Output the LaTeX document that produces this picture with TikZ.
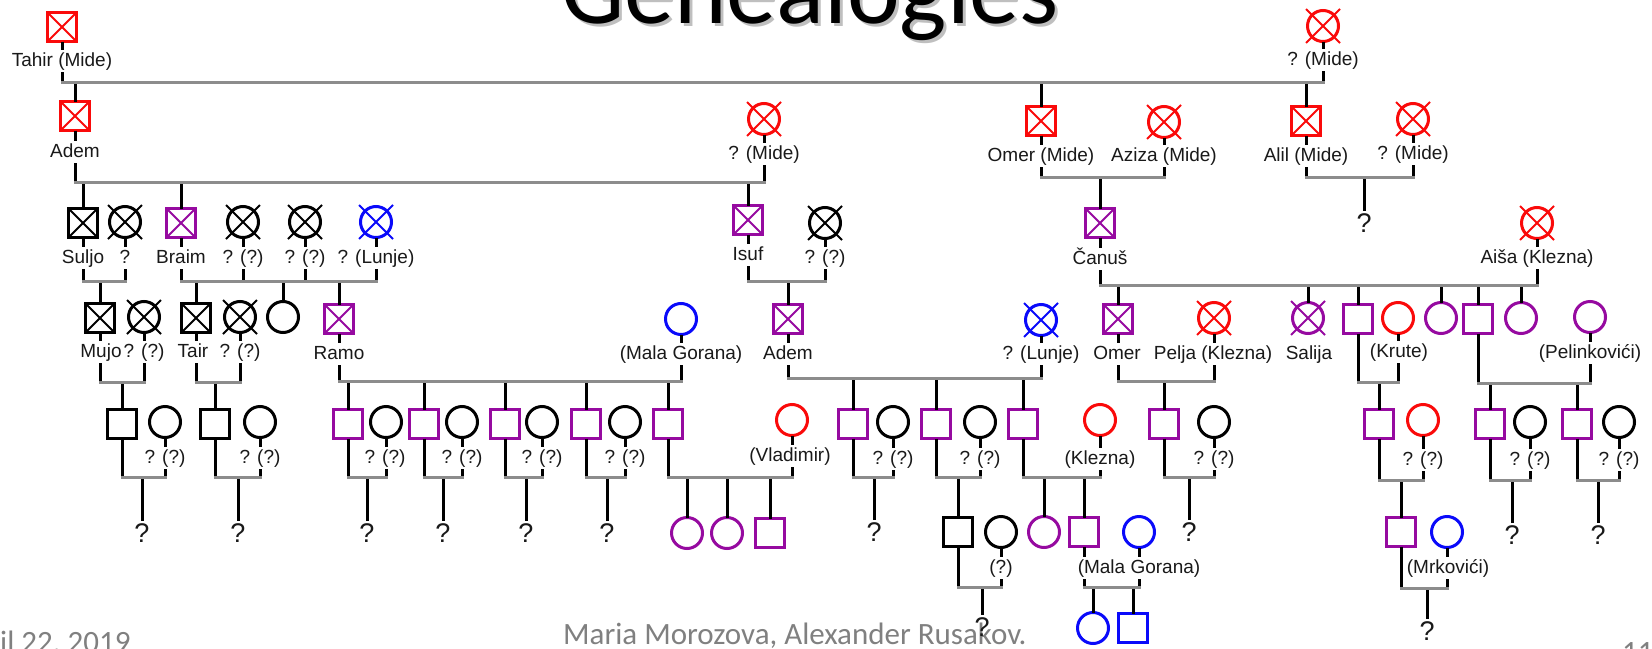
\documentclass[tikz,border=0pt]{standalone}
\usepackage{fontspec}
\setmainfont{Liberation Sans}
\newfontfamily\calib{Carlito}
\definecolor{cred}{RGB}{250,10,10}
\definecolor{cpur}{RGB}{150,10,160}
\definecolor{cblu}{RGB}{10,10,250}
\definecolor{cgry}{RGB}{140,140,140}
\definecolor{ctxt}{RGB}{25,25,25}
\definecolor{cfoot}{RGB}{128,128,128}
\newcommand\labfont{\fontsize{19}{22}\selectfont}
\newcommand\qfont{\fontsize{27}{30}\selectfont}
\newcommand\ttlfont{\calib\fontsize{100}{110}\selectfont}
\newcommand\ftrfont{\calib\fontsize{31}{36}\selectfont}
\newcommand\xsq[2]{\draw[xl,#2] (#1.north west) -- (#1.south east) (#1.north east) -- (#1.south west);}
\newcommand\xci[2]{\draw[xl,#2] ([shift={(-17pt,17pt)}]#1.center) -- ([shift={(17pt,-17pt)}]#1.center) ([shift={(-17pt,-17pt)}]#1.center) -- ([shift={(17pt,17pt)}]#1.center);}
\newcommand\parln[2]{\draw[vl] (#1.south) -- (#1.south |- #2);}
\newcommand\chln[2]{\draw[vl] (#1.north) -- (#1.north |- #2);}
\newcommand\unln[3]{\draw[gl] (#1.south |- #3) -- (#2.south |- #3);}
\tikzset{
  sym/.style={line width=3pt, outer sep=0pt, inner sep=0pt, fill=white},
  male/.style={sym, rectangle, minimum size=29pt, draw=#1},
  male/.default=black,
  fem/.style={sym, circle, minimum size=31pt, draw=#1},
  fem/.default=black,
  xl/.style={line width=1.8pt},
  vl/.style={line width=3pt, black},
  gl/.style={line width=3pt, cgry, line cap=rect},
  lab/.style={font=\labfont, fill=white, inner xsep=1pt, inner ysep=2pt, text height=14pt, text depth=4pt, text=ctxt},
  qmark/.style={font=\qfont, inner sep=2.5pt, text=ctxt},
}
\begin{document}
\begin{tikzpicture}[x=1pt,y=-1pt]
\useasboundingbox (0,0) rectangle (1652,648);
% title and footer
\node[font=\ttlfont, anchor=base, text=black!25] (titleshadow) at (813,26) {Genealogies};
\node[font=\ttlfont, anchor=base, text=black] (title) at (810,23) {Genealogies};
\node[font=\ftrfont, anchor=base west, text=cfoot, inner sep=0pt] (author) at (563,644) {Maria Morozova, Alexander Rusakov.};
\node[font=\ftrfont, anchor=base west, text=cfoot, inner sep=0pt] (date) at (-45,652) {April 22, 2019};
\node[font=\ftrfont, anchor=base west, text=cfoot, inner sep=0pt] (page) at (1622,662) {11};
% union coordinates
\coordinate (u0) at (0,82);
\coordinate (u1) at (0,182);
\coordinate (u1b) at (0,177);
\coordinate (u1c) at (0,177);
\coordinate (u2a) at (0,281);
\coordinate (u2b) at (0,281);
\coordinate (u2c) at (0,281);
\coordinate (u2d) at (0,285);
\coordinate (u3a) at (0,382);
\coordinate (u3b) at (0,382);
\coordinate (u3c) at (0,381);
\coordinate (u3d) at (0,378);
\coordinate (u3e) at (0,381);
\coordinate (u3f) at (0,382);
\coordinate (u3g) at (0,383);
\coordinate (u4) at (0,477);
\coordinate (u4r) at (0,480);
\coordinate (u5) at (0,587);
\coordinate (u5r) at (0,588);
% generation 0
\node[male=cred] (tahir) at (62,27) {};
\node[fem=cred] (tahirW) at (1323,26) {};
% generation 1
\node[male=cred] (adem1) at (75,116) {};
\node[fem=cred] (adem1W) at (764,119) {};
\node[male=cred] (omer1) at (1041,121) {};
\node[fem=cred] (aziza) at (1164,122) {};
\node[male=cred] (alil) at (1306,121) {};
\node[fem=cred] (alilW) at (1413,119) {};
% generation 2
\node[male] (suljo) at (83,223) {};
\node[fem] (suljoW) at (125,222) {};
\node[male=cpur] (braim) at (181,223) {};
\node[fem] (braimW1) at (243,222) {};
\node[fem] (braimW2) at (305,222) {};
\node[fem=cblu] (braimW3) at (376,222) {};
\node[male=cpur] (isuf) at (748,220) {};
\node[fem] (isufW) at (825,223) {};
\node[male=cpur] (canus) at (1100,223) {};
\node[fem=cred] (aisa) at (1537,223) {};
% generation 3
\node[male] (mujo) at (100,318) {};
\node[fem] (mujoW) at (144,317) {};
\node[male] (tair) at (196,318) {};
\node[fem] (tairW) at (240,317) {};
\node[fem] (braimD) at (283,317) {};
\node[male=cpur] (ramo) at (339,319) {};
\node[fem=cblu] (ramoW) at (681,319) {};
\node[male=cpur] (adem3) at (788,319) {};
\node[fem=cblu] (adem3W) at (1041,320) {};
\node[male=cpur] (omer3) at (1118,319) {};
\node[fem=cred] (pelja) at (1214,318) {};
\node[fem=cpur] (salija) at (1308,318) {};
\node[male=cpur] (cs1) at (1358,319) {};
\node[fem=cred] (krute) at (1398,318) {};
\node[fem=cpur] (cd1) at (1441,318) {};
\node[male=cpur] (cs2) at (1478,319) {};
\node[fem=cpur] (cd2) at (1521,318) {};
\node[fem=cpur] (pelin) at (1590,317) {};
% generation 4
\node[male] (mujoS) at (122,424) {};
\node[fem] (mujoSW) at (165,422) {};
\node[male] (tairS) at (215,424) {};
\node[fem] (tairSW) at (260,422) {};
\node[male=cpur] (rs1) at (348,424) {};
\node[fem] (rs1W) at (386,422) {};
\node[male=cpur] (rs2) at (424,424) {};
\node[fem] (rs2W) at (462,422) {};
\node[male=cpur] (rs3) at (505,424) {};
\node[fem] (rs3W) at (542,422) {};
\node[male=cpur] (rs4) at (586,424) {};
\node[fem] (rs4W) at (625,422) {};
\node[male=cpur] (rs5) at (668,424) {};
\node[fem=cred] (rs5W) at (792,420) {};
\node[male=cpur] (as1) at (853,424) {};
\node[fem] (as1W) at (893,422) {};
\node[male=cpur] (as2) at (936,424) {};
\node[fem] (as2W) at (980,422) {};
\node[male=cpur] (as3) at (1023,424) {};
\node[fem=cred] (as3W) at (1100,420) {};
\node[male=cpur] (os) at (1164,424) {};
\node[fem] (osW) at (1214,422) {};
\node[male=cpur] (ks) at (1379,424) {};
\node[fem=cred] (ksW) at (1423,420) {};
\node[male=cpur] (ps1) at (1490,424) {};
\node[fem] (ps1W) at (1530,422) {};
\node[male=cpur] (ps2) at (1577,424) {};
\node[fem] (ps2W) at (1619,422) {};
% generation 5
\node[fem=cpur] (v1) at (687,533) {};
\node[fem=cpur] (v2) at (727,533) {};
\node[male=cpur] (v3) at (770,533) {};
\node[male] (b5) at (958,532) {};
\node[fem] (b5W) at (1001,532) {};
\node[fem=cpur] (k5a) at (1044,532) {};
\node[male=cpur] (k5) at (1084,532) {};
\node[fem=cblu] (k5W) at (1139,532) {};
\node[male=cpur] (r5) at (1401,532) {};
\node[fem=cblu] (r5W) at (1447,532) {};
% generation 6
\node[fem=cblu] (g1) at (1093,628) {};
\node[male=cblu] (g2) at (1133,628) {};
% crosses (deceased)
\xsq{tahir}{cred} \xci{tahirW}{cred}
\xsq{adem1}{cred} \xci{adem1W}{cred} \xsq{omer1}{cred} \xci{aziza}{cred} \xsq{alil}{cred} \xci{alilW}{cred}
\xsq{suljo}{black} \xci{suljoW}{black} \xsq{braim}{cpur} \xci{braimW1}{black} \xci{braimW2}{black} \xci{braimW3}{cblu}
\xsq{isuf}{cpur} \xci{isufW}{black} \xsq{canus}{cpur} \xci{aisa}{cred}
\xsq{mujo}{black} \xci{mujoW}{black} \xsq{tair}{black} \xci{tairW}{black} \xsq{ramo}{cpur}
\xsq{adem3}{cpur} \xci{adem3W}{cblu} \xsq{omer3}{cpur} \xci{pelja}{cred} \xci{salija}{cpur}
% leaf question marks
\node[qmark] (qAl) at (1364,223) {?};
\node[qmark] (qMu) at (142,533) {?};
\node[qmark] (qTa) at (238,533) {?};
\node[qmark] (qR1) at (367,533) {?};
\node[qmark] (qR2) at (443,533) {?};
\node[qmark] (qR3) at (526,533) {?};
\node[qmark] (qR4) at (607,533) {?};
\node[qmark] (qA1) at (874,532) {?};
\node[qmark] (qOs) at (1189,532) {?};
\node[qmark] (qP1) at (1512,535) {?};
\node[qmark] (qP2) at (1598,535) {?};
\node[qmark] (qB5) at (982,627) {?};
\node[qmark] (qR5) at (1427,631) {?};
% ---- lines: generation 0
\parln{tahir}{u0} \parln{tahirW}{u0}
\chln{adem1}{u0} \chln{omer1}{u0} \chln{alil}{u0}
% generation 1 unions
\parln{adem1}{u1} \parln{adem1W}{u1}
\chln{suljo}{u1} \chln{braim}{u1} \chln{isuf}{u1}
\parln{omer1}{u1b} \parln{aziza}{u1b}
\chln{canus}{u1b}
\parln{alil}{u1c} \parln{alilW}{u1c}
\chln{qAl}{u1c}
% generation 2 unions
\parln{suljo}{u2a} \parln{suljoW}{u2a} \chln{mujo}{u2a}
\parln{braim}{u2b} \parln{braimW1}{u2b} \parln{braimW2}{u2b} \parln{braimW3}{u2b}
\chln{tair}{u2b} \chln{braimD}{u2b} \chln{ramo}{u2b}
\parln{isuf}{u2c} \parln{isufW}{u2c} \chln{adem3}{u2c}
\parln{canus}{u2d} \parln{aisa}{u2d}
\chln{omer3}{u2d} \chln{salija}{u2d} \chln{cs1}{u2d} \chln{cd1}{u2d} \chln{cs2}{u2d} \chln{cd2}{u2d}
% generation 3 unions
\parln{mujo}{u3a} \parln{mujoW}{u3a} \chln{mujoS}{u3a}
\parln{tair}{u3b} \parln{tairW}{u3b} \chln{tairS}{u3b}
\parln{ramo}{u3c} \parln{ramoW}{u3c}
\chln{rs1}{u3c} \chln{rs2}{u3c} \chln{rs3}{u3c} \chln{rs4}{u3c} \chln{rs5}{u3c}
\parln{adem3}{u3d} \parln{adem3W}{u3d}
\chln{as1}{u3d} \chln{as2}{u3d} \chln{as3}{u3d}
\parln{omer3}{u3e} \parln{pelja}{u3e} \chln{os}{u3e}
\parln{cs1}{u3f} \parln{krute}{u3f} \chln{ks}{u3f}
\parln{cs2}{u3g} \parln{pelin}{u3g} \chln{ps1}{u3g} \chln{ps2}{u3g}
% generation 4 unions
\parln{mujoS}{u4} \parln{mujoSW}{u4} \chln{qMu}{u4}
\parln{tairS}{u4} \parln{tairSW}{u4} \chln{qTa}{u4}
\parln{rs1}{u4} \parln{rs1W}{u4} \chln{qR1}{u4}
\parln{rs2}{u4} \parln{rs2W}{u4} \chln{qR2}{u4}
\parln{rs3}{u4} \parln{rs3W}{u4} \chln{qR3}{u4}
\parln{rs4}{u4} \parln{rs4W}{u4} \chln{qR4}{u4}
\parln{rs5}{u4} \parln{rs5W}{u4} \chln{v1}{u4} \chln{v2}{u4} \chln{v3}{u4}
\parln{as1}{u4} \parln{as1W}{u4} \chln{qA1}{u4}
\parln{as2}{u4} \parln{as2W}{u4} \chln{b5}{u4}
\parln{as3}{u4} \parln{as3W}{u4} \chln{k5a}{u4} \chln{k5}{u4}
\parln{os}{u4} \parln{osW}{u4} \chln{qOs}{u4}
\parln{ks}{u4r} \parln{ksW}{u4r} \chln{r5}{u4r}
\parln{ps1}{u4r} \parln{ps1W}{u4r} \chln{qP1}{u4r}
\parln{ps2}{u4r} \parln{ps2W}{u4r} \chln{qP2}{u4r}
% generation 5 unions
\parln{b5}{u5} \parln{b5W}{u5} \chln{qB5}{u5}
\parln{k5}{u5} \parln{k5W}{u5} \chln{g1}{u5} \chln{g2}{u5}
\parln{r5}{u5r} \parln{r5W}{u5r} \chln{qR5}{u5r}
% grey union lines
\unln{tahir}{tahirW}{u0}
\unln{adem1}{adem1W}{u1}
\unln{omer1}{aziza}{u1b}
\unln{alil}{alilW}{u1c}
\unln{suljo}{suljoW}{u2a}
\unln{braim}{braimW3}{u2b}
\unln{isuf}{isufW}{u2c}
\unln{canus}{aisa}{u2d}
\unln{mujo}{mujoW}{u3a}
\unln{tair}{tairW}{u3b}
\unln{ramo}{ramoW}{u3c}
\unln{adem3}{adem3W}{u3d}
\unln{omer3}{pelja}{u3e}
\unln{cs1}{krute}{u3f}
\unln{cs2}{pelin}{u3g}
\unln{mujoS}{mujoSW}{u4}
\unln{tairS}{tairSW}{u4}
\unln{rs1}{rs1W}{u4}
\unln{rs2}{rs2W}{u4}
\unln{rs3}{rs3W}{u4}
\unln{rs4}{rs4W}{u4}
\unln{rs5}{rs5W}{u4}
\unln{as1}{as1W}{u4}
\unln{as2}{as2W}{u4}
\unln{as3}{as3W}{u4}
\unln{os}{osW}{u4}
\unln{ks}{ksW}{u4r}
\unln{ps1}{ps1W}{u4r}
\unln{ps2}{ps2W}{u4r}
\unln{b5}{b5W}{u5}
\unln{k5}{k5W}{u5}
\unln{r5}{r5W}{u5r}
% labels
\node[lab] (lTahir) at (62,61) {Tahir (Mide)};
\node[lab] (lTahirW) at (1323,60) {? (Mide)};
\node[lab] (lAdem1) at (75,152) {Adem};
\node[lab] (lAdem1W) at (764,154) {? (Mide)};
\node[lab] (lOmer1) at (1041,156) {Omer (Mide)};
\node[lab] (lAziza) at (1164,156) {Aziza (Mide)};
\node[lab] (lAlil) at (1306,156) {Alil (Mide)};
\node[lab] (lAlilW) at (1413,154) {? (Mide)};
\node[lab] (lSuljo) at (83,258) {Suljo};
\node[lab] (lSuljoW) at (125,258) {?};
\node[lab] (lBraim) at (181,258) {Braim};
\node[lab] (lBW1) at (243,258) {? (?)};
\node[lab] (lBW2) at (305,258) {? (?)};
\node[lab] (lBW3) at (376,258) {? (Lunje)};
\node[lab] (lIsuf) at (748,255) {Isuf};
\node[lab] (lIsufW) at (825,258) {? (?)};
\node[lab] (lCanus) at (1100,259) {Čanuš};
\node[lab] (lAisa) at (1537,258) {Aiša (Klezna)};
\node[lab] (lMujo) at (101,352) {Mujo};
\node[lab] (lMujoW) at (144,352) {? (?)};
\node[lab] (lTair) at (193,352) {Tair};
\node[lab] (lTairW) at (240,352) {? (?)};
\node[lab] (lRamo) at (339,354) {Ramo};
\node[lab] (lRamoW) at (681,354) {(Mala Gorana)};
\node[lab] (lAdem3) at (788,354) {Adem};
\node[lab] (lAdem3W) at (1041,354) {? (Lunje)};
\node[lab] (lOmer3) at (1117,354) {Omer};
\node[lab] (lPelja) at (1213,354) {Pelja (Klezna)};
\node[lab] (lSalija) at (1309,354) {Salija};
\node[lab] (lKrute) at (1399,352) {(Krute)};
\node[lab] (lPelin) at (1590,353) {(Pelinkovići)};
\node[lab] (lMujoSW) at (165,458) {? (?)};
\node[lab] (lTairSW) at (260,458) {? (?)};
\node[lab] (lRs1W) at (385,458) {? (?)};
\node[lab] (lRs2W) at (462,458) {? (?)};
\node[lab] (lRs3W) at (542,458) {? (?)};
\node[lab] (lRs4W) at (625,458) {? (?)};
\node[lab] (lRs5W) at (790,456) {(Vladimir)};
\node[lab] (lAs1W) at (893,459) {? (?)};
\node[lab] (lAs2W) at (980,459) {? (?)};
\node[lab] (lAs3W) at (1100,459) {(Klezna)};
\node[lab] (lOsW) at (1214,459) {? (?)};
\node[lab] (lKsW) at (1423,460) {? (?)};
\node[lab] (lPs1W) at (1530,460) {? (?)};
\node[lab] (lPs2W) at (1619,460) {? (?)};
\node[lab] (lB5W) at (1001,568) {(?)};
\node[lab] (lK5W) at (1139,568) {(Mala Gorana)};
\node[lab] (lR5W) at (1448,568) {(Mrkovići)};
\end{tikzpicture}
\end{document}
